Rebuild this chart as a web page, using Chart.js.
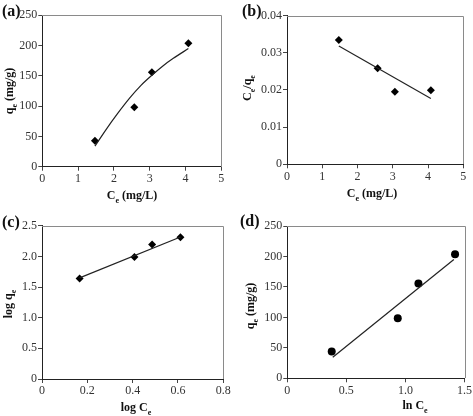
<!DOCTYPE html>
<html><head><meta charset="utf-8">
<script src="https://cdn.jsdelivr.net/npm/chart.js@4.4.1/dist/chart.umd.min.js"></script>
<style>
html,body{margin:0;padding:0;background:#fff;width:473px;height:416px;overflow:hidden;}
canvas{position:absolute;}
</style></head><body>
<canvas id="ca" width="236" height="208" style="left:0px;top:0px"></canvas>
<canvas id="cb" width="237" height="208" style="left:236px;top:0px"></canvas>
<canvas id="cc" width="236" height="208" style="left:0px;top:208px"></canvas>
<canvas id="cd" width="237" height="208" style="left:236px;top:208px"></canvas>
<script>
// ---- data ----
// (a) qe vs Ce
const ceA = [1.47, 2.57, 3.06, 4.08];
const qeA = [43, 98, 156, 204];
const fitAx = [1.47, 1.8, 2.08, 2.45, 2.75, 3.06, 3.36, 3.66, 4.08];
const fitAy = [34, 63, 86, 114, 134, 151, 166, 179, 195];
// (b) Ce/qe vs Ce
const ceB = [1.47, 2.57, 3.06, 4.08];
const ratioB = [0.0334, 0.0258, 0.0195, 0.0199];
const fitBx = [1.47, 4.08];
const fitBy = [0.0318, 0.0177];
// (c) log qe vs log Ce
const logCe = [0.166, 0.408, 0.486, 0.611];
const logQe = [1.64, 1.99, 2.195, 2.31];
const fitCx = [0.166, 0.611];
const fitCy = [1.65, 2.315];
// (d) qe vs ln Ce
const lnCe = [0.376, 0.935, 1.11, 1.42];
const qeD = [44, 98.5, 155.5, 203.5];
const fitDx = [0.385, 1.41];
const fitDy = [34.5, 195];
// tick settings
const ticksA = {xMin:0, xMax:5, xStep:1, yMin:0, yMax:250, yStep:50};
const ticksB = {xMin:0, xMax:5, xStep:1, yMin:0, yMax:0.04, yStep:0.01};
const ticksC = {xMin:0, xMax:0.8, xStep:0.2, yMin:0, yMax:2.5, yStep:0.5};
const ticksD = {xMin:0, xMax:1.5, xStep:0.5, yMin:0, yMax:250, yStep:50};

const FAM = '"Liberation Serif", "Times New Roman", serif';

function pts(xs, ys){ return xs.map((x,i)=>({x:x, y:ys[i]})); }

function drawRich(ctx, parts, cx, cy, rot, size){
  ctx.save();
  ctx.translate(cx, cy);
  if (rot) ctx.rotate(-Math.PI/2);
  const fonts = parts.map(p => p.sub ? `bold ${Math.round(size*0.66)}px ${FAM}` : `bold ${size}px ${FAM}`);
  let total = 0;
  parts.forEach((p,i)=>{ ctx.font = fonts[i]; total += ctx.measureText(p.t).width; });
  let x = -total/2;
  const base = size*0.35;
  ctx.fillStyle = '#111';
  ctx.textBaseline = 'alphabetic';
  ctx.textAlign = 'left';
  parts.forEach((p,i)=>{
    ctx.font = fonts[i];
    ctx.fillText(p.t, x, base + (p.sub ? size*0.28 : 0));
    x += ctx.measureText(p.t).width;
  });
  ctx.restore();
}

function makePanel(id, ox, oy, area, tk, datasets, deco){
  const cv = document.getElementById(id);
  const W = cv.width, H = cv.height;
  const YW = 36, XH = 20;
  const L = area.l - ox, T = area.t - oy, R = area.r - ox, B = area.b - oy;
  const tickFont = {family: FAM, size: 12};
  const deco_plugin = {
    id: 'deco_' + id,
    afterDraw(chart){
      const ctx = chart.ctx, a = chart.chartArea;
      ctx.save();
      ctx.strokeStyle = '#8a8a8a';
      ctx.lineWidth = 1;
      ctx.beginPath();
      ctx.moveTo(Math.round(a.left), Math.round(a.top)+0.5);
      ctx.lineTo(Math.round(a.right)+0.5, Math.round(a.top)+0.5);
      ctx.lineTo(Math.round(a.right)+0.5, Math.round(a.bottom));
      ctx.stroke();
      ctx.restore();
      drawRich(ctx, deco.xTitle, deco.xPos[0]-ox, deco.xPos[1]-oy, false, 12);
      drawRich(ctx, deco.yTitle, deco.yPos[0]-ox, deco.yPos[1]-oy, true, 12);
      ctx.save();
      ctx.font = `bold 16px ${FAM}`;
      ctx.fillStyle = '#111';
      ctx.textAlign = 'left';
      ctx.textBaseline = 'middle';
      ctx.fillText(deco.label, deco.lPos[0]-ox, deco.lPos[1]-oy);
      ctx.restore();
    }
  };
  return new Chart(cv, {
    type: 'scatter',
    data: {datasets: datasets},
    options: {
      responsive: false,
      devicePixelRatio: 1,
      animation: false,
      layout: {padding: {left: L - YW, top: T, right: W - R, bottom: H - B - XH}},
      plugins: {legend: {display: false}, tooltip: {enabled: false}},
      scales: {
        x: {
          type: 'linear', min: tk.xMin, max: tk.xMax,
          ticks: {stepSize: tk.xStep, font: tickFont, color: '#333', padding: 1, maxRotation: 0},
          grid: {drawOnChartArea: false, drawTicks: true, tickLength: 4, color: '#444'},
          border: {display: true, color: '#222', width: 1},
          afterFit(s){ s.height = XH; }
        },
        y: {
          type: 'linear', min: tk.yMin, max: tk.yMax,
          ticks: {stepSize: tk.yStep, font: tickFont, color: '#333', padding: 1},
          grid: {drawOnChartArea: false, drawTicks: true, tickLength: 4, color: '#444'},
          border: {display: true, color: '#222', width: 1},
          afterFit(s){ s.width = YW; }
        }
      }
    },
    plugins: [deco_plugin]
  });
}

function markerSet(xs, ys, style, r){
  return {data: pts(xs, ys), pointStyle: style, pointRadius: r, pointHoverRadius: r,
          backgroundColor: '#000', borderColor: '#000', borderWidth: 0, showLine: false};
}
function lineSet(xs, ys, curve){
  return {data: pts(xs, ys), showLine: true, pointRadius: 0, borderColor: '#222',
          borderWidth: 1.2, fill: false, tension: curve ? 0.3 : 0};
}

makePanel('ca', 0, 0, {l:42.3, t:15.3, r:221.3, b:166.7}, ticksA,
  [lineSet(fitAx, fitAy, true), markerSet(ceA, qeA, 'rectRot', 4)],
  {xTitle:[{t:'C'},{t:'e',sub:true},{t:' (mg/L)'}], xPos:[132,195],
   yTitle:[{t:'q'},{t:'e',sub:true},{t:' (mg/g)'}], yPos:[9,91],
   label:'(a)', lPos:[2,12]});

makePanel('cb', 236, 0, {l:287, t:15.5, r:463.3, b:164.3}, ticksB,
  [lineSet(fitBx, fitBy, false), markerSet(ceB, ratioB, 'rectRot', 4)],
  {xTitle:[{t:'C'},{t:'e',sub:true},{t:' (mg/L)'}], xPos:[372,193],
   yTitle:[{t:'C'},{t:'e',sub:true},{t:'/q'},{t:'e',sub:true}], yPos:[247,88],
   label:'(b)', lPos:[242,12]});

makePanel('cc', 0, 208, {l:42, t:225.7, r:223.3, b:379}, ticksC,
  [lineSet(fitCx, fitCy, false), markerSet(logCe, logQe, 'rectRot', 4)],
  {xTitle:[{t:'log C'},{t:'e',sub:true}], xPos:[136,407],
   yTitle:[{t:'log q'},{t:'e',sub:true}], yPos:[8,304],
   label:'(c)', lPos:[2,223]});

makePanel('cd', 236, 208, {l:287.3, t:226, r:465.7, b:378.3}, ticksD,
  [lineSet(fitDx, fitDy, false), markerSet(lnCe, qeD, 'circle', 4)],
  {xTitle:[{t:'ln C'},{t:'e',sub:true}], xPos:[415,405],
   yTitle:[{t:'q'},{t:'e',sub:true},{t:' (mg/g)'}], yPos:[250,306],
   label:'(d)', lPos:[240,222]});
</script>
</body></html>
